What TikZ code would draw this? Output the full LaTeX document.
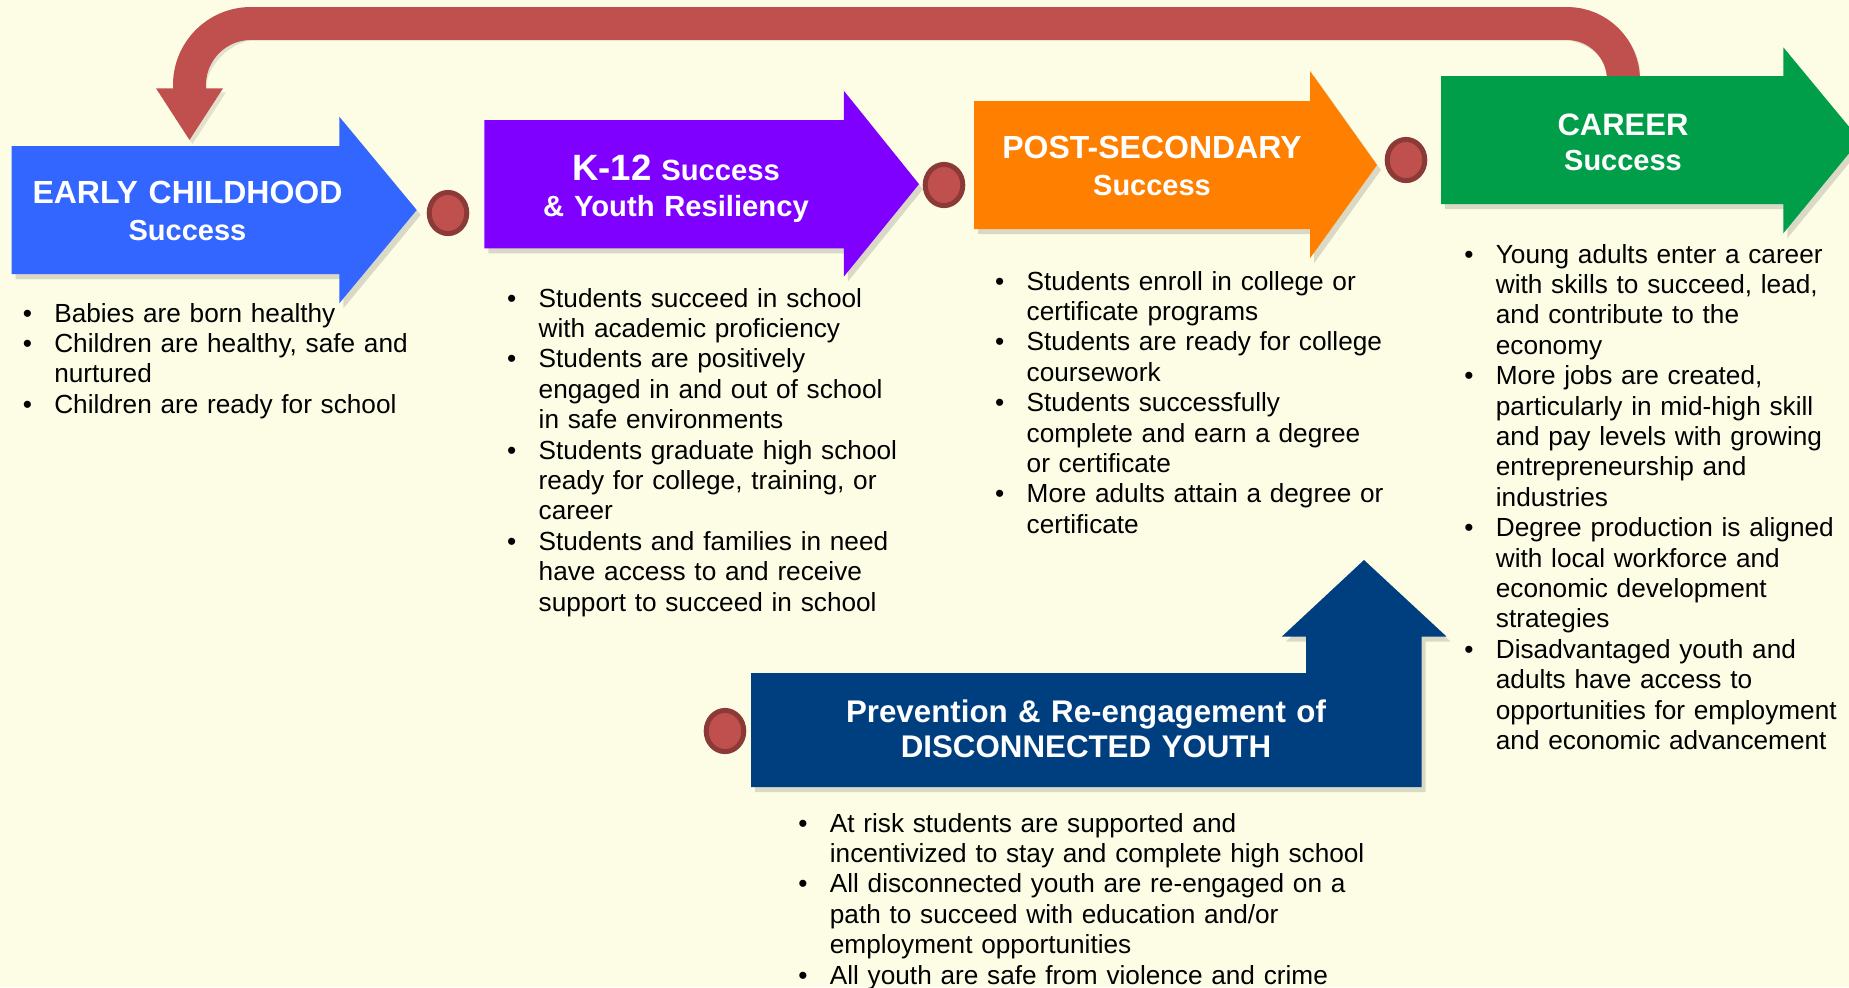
\documentclass[tikz,border=0pt]{standalone}
\usepackage{fontspec}
\setmainfont{Liberation Sans}
\usetikzlibrary{shapes.geometric}
\definecolor{bg}{HTML}{FDFDE6}
\definecolor{redarc}{HTML}{C0504D}
\definecolor{dotborder}{HTML}{8C3A37}
\definecolor{ecblue}{HTML}{3366FF}
\definecolor{kpurple}{HTML}{8000FF}
\definecolor{psorange}{HTML}{FF8000}
\definecolor{cgreen}{HTML}{009E49}
\definecolor{dnavy}{HTML}{003F7F}
\newcommand\bitem{\makebox[15.75pt][l]{•}}
\newcommand\bcont{\hspace*{15.75pt}}
% #1 style, #2 left, #3 right, #4 top, #5 bottom, #6 head top, #7 head bottom, #8 tip x
\newcommand\arrowshape[8]{%
  \path[#1] (#2,#4) -- (#3,#4) -- (#3,#6) -- (#8,{(#4+#5)/2}) -- (#3,#7) -- (#3,#5) -- (#2,#5) -- cycle;}
\tikzset{
  shadowfill/.style={fill=black, opacity=0.14, shift={(4,5)}},
  redband/.style={draw=redarc, line width=16.5pt},
  redshadow/.style={draw=black, opacity=0.11, line width=16.5pt, shift={(3,4)}},
  dot/.style={ellipse, draw=dotborder, fill=redarc, line width=2.5pt, minimum width=18.8pt, minimum height=20.6pt, inner sep=0pt},
  title/.style={text=white, align=center, text width=300pt, inner sep=0pt, anchor=base},
  blist/.style={font=\fontsize{13.1}{15.2}\selectfont, align=left, text width=330pt, inner sep=0pt, anchor=base west},
}
\begin{document}
\begin{tikzpicture}[x=0.5pt, y=-0.5pt]
\useasboundingbox[fill=bg] (0,0) rectangle (1849,987);

% red return arrow (career -> early childhood)
\coordinate (rs) at (1623.5,110);
\coordinate (rc1) at (1623.5,80);
\coordinate (rc2) at (1567,23.5);
\coordinate (rc3) at (251,23.5);
\coordinate (rc4) at (189.5,85);
\coordinate (re) at (189.5,92);
\draw[redshadow] (rs) -- (rc1) .. controls (1623.5,48.8) and (1598.2,23.5) .. (rc2) -- (rc3) .. controls (216.8,23.5) and (189.5,51) .. (rc4) -- (re);
\fill[black, opacity=0.11, shift={(3,4)}] (156,88.3) -- (223,88.3) -- (189.5,140) -- cycle;
\draw[redband] (rs) -- (rc1) .. controls (1623.5,48.8) and (1598.2,23.5) .. (rc2) -- (rc3) .. controls (216.8,23.5) and (189.5,51) .. (rc4) -- (re);
\fill[redarc] (156,88.3) -- (223,88.3) -- (189.5,140) -- cycle;

% stage arrows
\arrowshape{shadowfill}{11.7}{339.3}{146}{274}{116.7}{303.3}{416.7}
\arrowshape{fill=ecblue}{11.7}{339.3}{146}{274}{116.7}{303.3}{416.7}
\arrowshape{shadowfill}{484.4}{843.8}{120}{248.3}{90.7}{276.7}{919}
\arrowshape{fill=kpurple}{484.4}{843.8}{120}{248.3}{90.7}{276.7}{919}
\arrowshape{shadowfill}{974}{1310}{101}{229}{71}{258.3}{1377}
\arrowshape{fill=psorange}{974}{1310}{101}{229}{71}{258.3}{1377}
\arrowshape{shadowfill}{1441}{1783.3}{76}{204}{47.3}{233.3}{1860}
\arrowshape{fill=cgreen}{1441}{1783.3}{76}{204}{47.3}{233.3}{1860}

% disconnected youth bent arrow
\path[shadowfill] (751,673) -- (1306,673) -- (1306,636.7) -- (1281.7,636.7) -- (1364,560) -- (1446.7,636.7) -- (1421.7,636.7) -- (1421.7,787) -- (751,787) -- cycle;
\path[fill=dnavy] (751,673) -- (1306,673) -- (1306,636.7) -- (1281.7,636.7) -- (1364,560) -- (1446.7,636.7) -- (1421.7,636.7) -- (1421.7,787) -- (751,787) -- cycle;

% connector dots
\node[dot] (d1) at (448,213) {};
\node[dot] (d2) at (944,185) {};
\node[dot] (d3) at (1406,160) {};
\node[dot] (d4) at (725,731) {};

% titles
\node[title, font=\bfseries\fontsize{16}{18.5}\selectfont] (t-ec) at (187.5,203.3)
  {EARLY CHILDHOOD\\{\fontsize{14.5}{18.5}\selectfont Success}};
\node[title, font=\bfseries\fontsize{14.6}{18.3}\selectfont] (t-k12) at (676,180)
  {{\fontsize{18.3}{18.3}\selectfont K-12} Success\\\& Youth Resiliency};
\node[title, font=\bfseries\fontsize{16}{18.5}\selectfont] (t-ps) at (1152,158.3)
  {POST-SECONDARY\\{\fontsize{14.5}{18.5}\selectfont Success}};
\node[title, font=\bfseries\fontsize{15.5}{17.8}\selectfont] (t-car) at (1623,135)
  {CAREER\\{\fontsize{14.5}{17.8}\selectfont Success}};
\node[title, font=\bfseries\fontsize{15.65}{17.6}\selectfont] (t-dis) at (1086,722.7)
  {Prevention \& Re-engagement of\\DISCONNECTED YOUTH};

% bullet lists
\node[blist] (l-ec) at (22.4,322) {%
\bitem Babies are born healthy\\
\bitem Children are healthy, safe and\\
\bcont nurtured\\
\bitem Children are ready for school};
\node[blist] (l-k12) at (506.8,307) {%
\bitem Students succeed in school\\
\bcont with academic proficiency\\
\bitem Students are positively\\
\bcont engaged in and out of school\\
\bcont in safe environments\\
\bitem Students graduate high school\\
\bcont ready for college, training, or\\
\bcont career\\
\bitem Students and families in need\\
\bcont have access to and receive\\
\bcont support to succeed in school};
\node[blist] (l-ps) at (994.8,290) {%
\bitem Students enroll in college or\\
\bcont certificate programs\\
\bitem Students are ready for college\\
\bcont coursework\\
\bitem Students successfully\\
\bcont complete and earn a degree\\
\bcont or certificate\\
\bitem More adults attain a degree or\\
\bcont certificate};
\node[blist] (l-car) at (1464,263) {%
\bitem Young adults enter a career\\
\bcont with skills to succeed, lead,\\
\bcont and contribute to the\\
\bcont economy\\
\bitem More jobs are created,\\
\bcont particularly in mid-high skill\\
\bcont and pay levels with growing\\
\bcont entrepreneurship and\\
\bcont industries\\
\bitem Degree production is aligned\\
\bcont with local workforce and\\
\bcont economic development\\
\bcont strategies\\
\bitem Disadvantaged youth and\\
\bcont adults have access to\\
\bcont opportunities for employment\\
\bcont and economic advancement};
\node[blist] (l-dis) at (798,832) {%
\bitem At risk students are supported and\\
\bcont incentivized to stay and complete high school\\
\bitem All disconnected youth are re-engaged on a\\
\bcont path to succeed with education and/or\\
\bcont employment opportunities\\
\bitem All youth are safe from violence and crime};
\end{tikzpicture}
\end{document}
